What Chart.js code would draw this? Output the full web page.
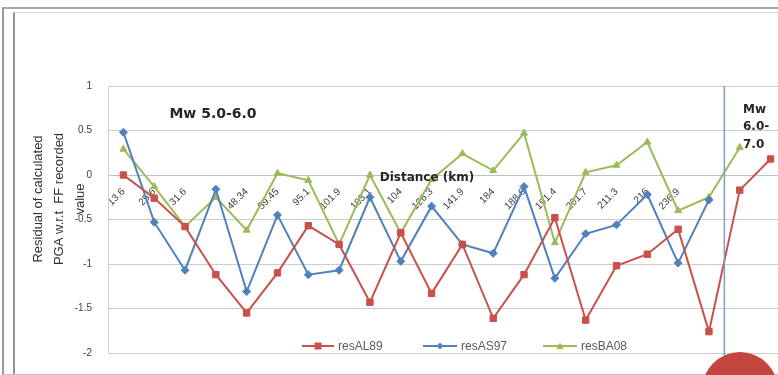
<!DOCTYPE html>
<html>
<head>
<meta charset="utf-8">
<script src="https://cdn.jsdelivr.net/npm/chart.js@4.4.1/dist/chart.umd.min.js"></script>
<style>
  html, body { margin: 0; padding: 0; background: #fff; overflow: hidden; width: 778px; height: 375px; }
  #frameOuter { position: absolute; left: 2px; top: 7px; width: 900px; height: 365px;
    border-left: 2px solid #9a9a9a; border-top: 2px solid #a8a8a8; border-bottom: 1px solid #c4c4c4; }
  #frameInner { position: absolute; left: 13px; top: 12px; width: 900px; height: 361px;
    border-left: 2px solid #8c939c; border-top: 1px solid #d6d6d6; }
  #wrap { position: absolute; left: 0; top: 0; width: 800px; height: 375px; }
  #dot { position: absolute; left: 702px; top: 352px; width: 76px; height: 76px;
    border-radius: 50%; background: #c4453e; }
</style>
</head>
<body>
<div id="frameOuter"></div>
<div id="frameInner"></div>
<div id="wrap"><canvas id="resChart" width="800" height="375"></canvas></div>
<div id="dot"></div>
<script>
// distance labels (km), last three not shown in the source
const distances = ['13.6', '25.6', '31.6', '', '48.34', '59.45', '95.1', '101.9', '103.1', '104',
  '126.3', '141.9', '184', '188.6', '191.4', '201.7', '211.3', '216', '236.9', '', '', ''];

const resAL89 = [0.0, -0.26, -0.58, -1.12, -1.55, -1.1, -0.57, -0.78, -1.43, -0.65,
  -1.33, -0.78, -1.61, -1.12, -0.48, -1.63, -1.02, -0.89, -0.61, -1.76, -0.17, 0.18];
const resAS97 = [0.48, -0.53, -1.07, -0.16, -1.31, -0.45, -1.12, -1.07, -0.25, -0.97,
  -0.35, -0.78, -0.88, -0.13, -1.16, -0.66, -0.56, -0.22, -0.99, -0.28, null, null];
const resBA08 = [0.29, -0.13, -0.58, -0.25, -0.62, 0.02, -0.06, -0.78, 0.0, -0.65,
  -0.05, 0.24, 0.05, 0.47, -0.76, 0.03, 0.11, 0.37, -0.4, -0.25, 0.31, null];

const yTitle = ['Residual of calculated', 'PGA w.r.t  FF recorded', 'value'];

const RED = '#c9504b';
const BLUE = '#4f81bd';
const GREEN = '#9bbb59';

// texts, separator line and legend drawn on top of the plot
const overlay = {
  id: 'overlay',
  afterDraw(chart) {
    const ctx = chart.ctx;
    const x = chart.scales.x;
    const area = chart.chartArea;
    ctx.save();

    // separator between Mw groups
    const sepX = (x.getPixelForValue(19) + x.getPixelForValue(20)) / 2;
    ctx.strokeStyle = '#7f9fc9';
    ctx.lineWidth = 1.5;
    ctx.beginPath();
    ctx.moveTo(sepX, area.top);
    ctx.lineTo(sepX, 372);
    ctx.stroke();

    ctx.fillStyle = '#262626';
    ctx.font = 'bold 14px "DejaVu Sans"';
    ctx.textAlign = 'center';
    ctx.textBaseline = 'middle';
    ctx.fillText('Mw 5.0-6.0', 213, 114);
    ctx.font = 'bold 12px "DejaVu Sans"';
    ctx.fillText('Distance (km)', 427, 178);
    ctx.textAlign = 'left';
    ctx.font = 'bold 12px "DejaVu Sans"';
    ctx.fillText('Mw', 743, 110);
    ctx.fillText('6.0-', 743, 127);
    ctx.fillText('7.0', 743, 145);

    // y title
    ctx.font = '13px "Liberation Sans"';
    ctx.fillStyle = '#333';
    ctx.textAlign = 'center';
    [38, 59, 80].forEach((px, i) => {
      ctx.save();
      ctx.translate(px, 199);
      ctx.rotate(-Math.PI / 2);
      ctx.fillText(yTitle[i], 0, 0);
      ctx.restore();
    });

    // legend
    const ly = 346;
    const items = [[302, 334, 'resAL89', RED, 'sq'], [423, 457, 'resAS97', BLUE, 'dia'], [543, 577, 'resBA08', GREEN, 'tri']];
    ctx.font = '12px "Liberation Sans"';
    ctx.textAlign = 'left';
    items.forEach(([a, b, name, col, shape]) => {
      ctx.strokeStyle = col;
      ctx.fillStyle = col;
      ctx.lineWidth = 2;
      ctx.beginPath();
      ctx.moveTo(a, ly);
      ctx.lineTo(b, ly);
      ctx.stroke();
      const m = (a + b) / 2;
      ctx.beginPath();
      if (shape === 'sq') ctx.rect(m - 3.5, ly - 3.5, 7, 7);
      if (shape === 'dia') { ctx.moveTo(m, ly - 3.5); ctx.lineTo(m + 3.5, ly); ctx.lineTo(m, ly + 3.5); ctx.lineTo(m - 3.5, ly); }
      if (shape === 'tri') { ctx.moveTo(m, ly - 3.5); ctx.lineTo(m + 3.5, ly + 3); ctx.lineTo(m - 3.5, ly + 3); }
      ctx.fill();
      ctx.fillStyle = '#595959';
      ctx.fillText(name, b + 4, ly + 1);
    });
    ctx.restore();
  }
};

function mkSet(label, data, color, style, radius) {
  return {
    label: label,
    data: data,
    borderColor: color,
    backgroundColor: color,
    borderWidth: 2,
    pointStyle: style,
    pointRadius: radius,
    pointBorderWidth: 1,
    tension: 0,
    spanGaps: false
  };
}

const ctx = document.getElementById('resChart').getContext('2d');
new Chart(ctx, {
  type: 'line',
  data: {
    labels: distances,
    datasets: [
      mkSet('resAL89', resAL89, RED, 'rect', 4.5),
      mkSet('resAS97', resAS97, BLUE, 'rectRot', 4),
      mkSet('resBA08', resBA08, GREEN, 'triangle', 4)
    ]
  },
  options: {
    responsive: false,
    animation: false,
    layout: { padding: { top: 86, right: 14, bottom: 22, left: 0 } },
    plugins: {
      legend: { display: false },
      tooltip: { enabled: false }
    },
    scales: {
      x: {
        position: { y: 0 },
        offset: true,
        grid: { display: false },
        border: { display: true, color: '#c0c0c0', width: 1 },
        ticks: {
          autoSkip: false,
          maxRotation: 45,
          minRotation: 45,
          padding: 3,
          color: '#404040',
          font: { family: 'Liberation Sans', size: 10 }
        }
      },
      y: {
        min: -2,
        max: 1,
        afterFit(scale) { scale.width = 108; },
        grid: { color: '#cdcdcd', drawTicks: false },
        border: { display: true, color: '#cdcdcd' },
        ticks: {
          stepSize: 0.5,
          padding: 16,
          color: '#404040',
          font: { family: 'Liberation Sans', size: 10 },
          callback: (v) => String(v)
        }
      }
    }
  },
  plugins: [overlay]
});
</script>
</body>
</html>
